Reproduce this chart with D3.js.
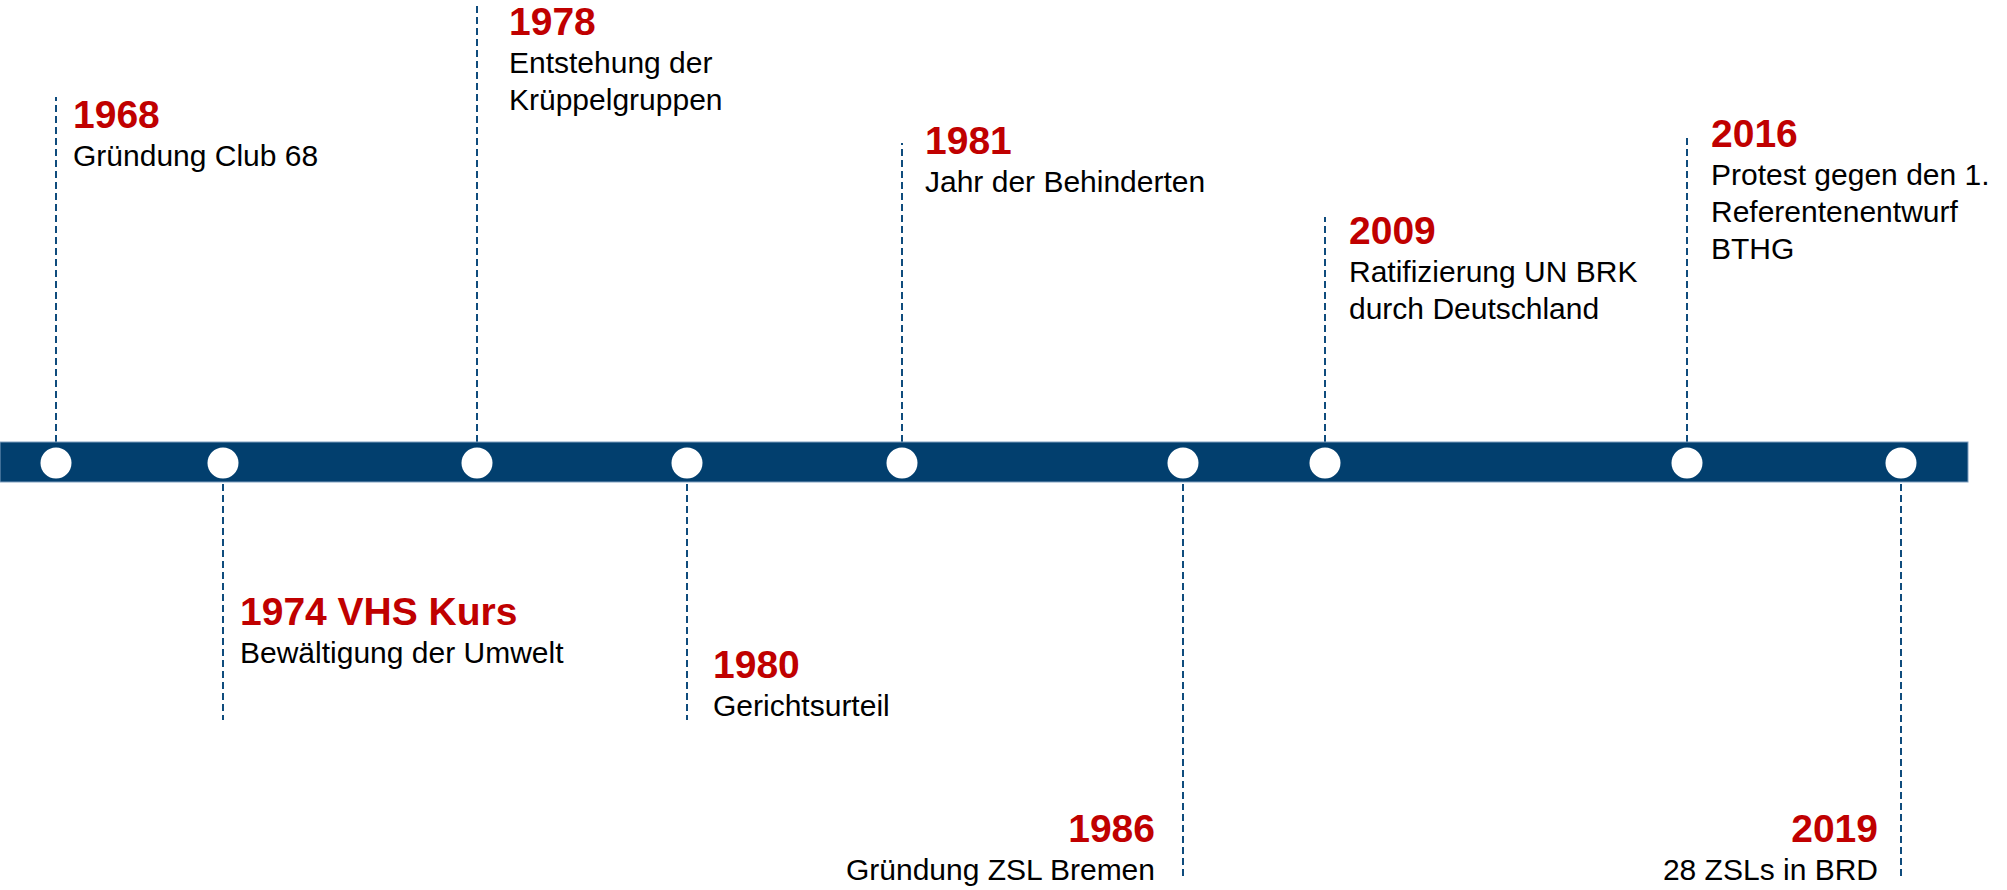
<!DOCTYPE html>
<html>
<head>
<meta charset="utf-8">
<script src="https://cdn.jsdelivr.net/npm/d3@7"></script>
<style>
  html, body { margin: 0; padding: 0; background: #ffffff; }
  svg { display: block; }
</style>
</head>
<body>
<svg id="chart" width="2007" height="890"></svg>
<script>
// ---------------- data ----------------
const eventYears  = [1968, 1974, 1978, 1980, 1981, 1986, 2009, 2016, 2019];
const eventTitles = ["1968", "1974 VHS Kurs", "1978", "1980", "1981", "1986", "2009", "2016", "2019"];
const eventTexts  = [
  ["Gründung Club 68"],
  ["Bewältigung der Umwelt"],
  ["Entstehung der", "Krüppelgruppen"],
  ["Gerichtsurteil"],
  ["Jahr der Behinderten"],
  ["Gründung ZSL Bremen"],
  ["Ratifizierung UN BRK", "durch Deutschland"],
  ["Protest gegen den 1.", "Referentenentwurf", "BTHG"],
  ["28 ZSLs in BRD"]
];
const eventSides  = ["up", "down", "up", "down", "up", "down", "up", "up", "down"];

// ---------------- layout (not data) ----------------
const W = 2007, H = 890;
const markerX   = [56, 223, 477, 687, 902, 1183, 1325, 1687, 1901];   // placement along the band
const stemTip   = [97, 720, 4, 720, 143, 876, 217, 134, 876];          // far end of dashed connector
const labelX    = [73, 240, 509, 713, 925, 1155, 1349, 1711, 1878];
const labelBase = [128, 625, 35, 678, 154, 842, 244, 147, 842];       // baseline of the year line
const labelAnchor = ["start", "start", "start", "start", "start", "end", "start", "start", "end"];

const band = { x0: 0, x1: 1968, y0: 442, y1: 482 };
const COL_BAND = "#023f6e";
const COL_STEM = "#0f4c7d";
const COL_RED  = "#c00000";
const FONT = "'Liberation Sans', Arial, Helvetica, sans-serif";

const x = d3.scaleOrdinal().domain(eventYears).range(markerX);
const yTip = d3.scaleOrdinal().domain(eventYears).range(stemTip);
const lx = d3.scaleOrdinal().domain(eventYears).range(labelX);
const ly = d3.scaleOrdinal().domain(eventYears).range(labelBase);

const events = eventYears.map((y, i) => ({
  year: y, title: eventTitles[i], lines: eventTexts[i], side: eventSides[i], anchor: labelAnchor[i]
}));

const svg = d3.select("#chart");

// dashed connectors
svg.append("g").selectAll("line").data(events).join("line")
  .attr("x1", d => x(d.year)).attr("x2", d => x(d.year))
  .attr("y1", d => d.side === "up" ? band.y0 : band.y1 + 2)
  .attr("y2", d => yTip(d.year))
  .attr("stroke", COL_STEM)
  .attr("stroke-width", 2)
  .attr("stroke-dasharray", "7,4");

// band
svg.append("rect")
  .attr("x", band.x0).attr("y", band.y0)
  .attr("width", band.x1 - band.x0).attr("height", band.y1 - band.y0)
  .attr("fill", COL_BAND)
  .attr("stroke", "#7e9fbf").attr("stroke-width", 1);

// markers
svg.append("g").selectAll("circle").data(events).join("circle")
  .attr("cx", d => x(d.year))
  .attr("cy", (band.y0 + band.y1) / 2 + 1)
  .attr("r", 15.5)
  .attr("fill", "#ffffff");

// labels
const lab = svg.append("g").selectAll("g").data(events).join("g");
lab.append("text")
  .attr("x", d => lx(d.year)).attr("y", d => ly(d.year))
  .attr("text-anchor", d => d.anchor)
  .attr("font-family", FONT).attr("font-weight", "bold").attr("font-size", 39)
  .attr("fill", COL_RED)
  .text(d => d.title);
lab.each(function(d) {
  const g = d3.select(this);
  d.lines.forEach((t, j) => {
    g.append("text")
      .attr("x", lx(d.year)).attr("y", ly(d.year) + 38 + j * 37)
      .attr("text-anchor", d.anchor)
      .attr("font-family", FONT).attr("font-size", 30)
      .attr("fill", "#000000")
      .text(t);
  });
});
</script>
</body>
</html>
